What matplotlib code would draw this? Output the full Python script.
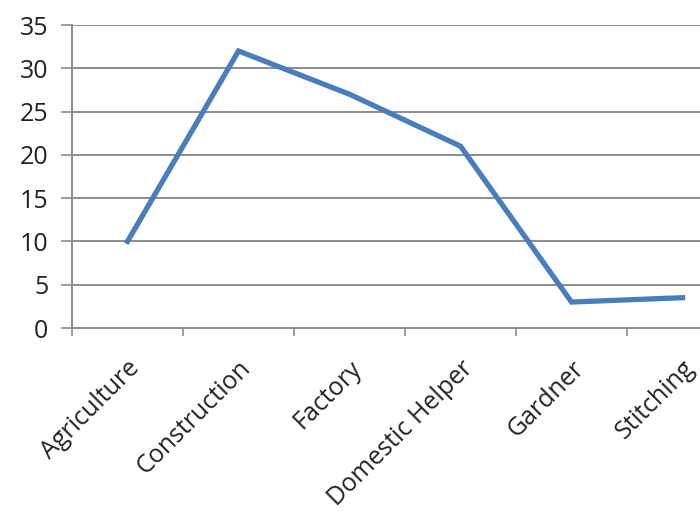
import matplotlib.pyplot as plt
import numpy as np

# occupation counts
categories = ['Agriculture', 'Construction', 'Factory', 'Domestic Helper', 'Gardner', 'Stitching']
values = [10, 32, 27, 21, 3, 3.5]

plt.rcParams['font.family'] = ['Open Sans', 'DejaVu Sans']

fig = plt.figure(figsize=(7, 5.11), dpi=100)
ax = fig.add_axes([72 / 700, 1 - 328 / 511, 666 / 700, (328 - 25) / 511])

x = np.arange(len(categories))
ax.plot(x, values, color='#4A7EBB', linewidth=3.8, solid_joinstyle='miter', zorder=3)

ax.set_ylim(0, 35)
ax.set_yticks(range(0, 36, 5))
ax.set_xlim(-0.5, len(categories) - 0.5)

# category labels at centres, tick marks on the boundaries
ax.set_xticks(x)
ax.set_xticklabels(categories, rotation=45, ha='right', rotation_mode='anchor', fontsize=18, color='#222222')
ax.set_xticks(np.arange(len(categories) + 1) - 0.5, minor=True)
ax.tick_params(axis='x', which='major', length=0, pad=20)
ax.tick_params(axis='x', which='minor', length=6, width=1.2, color='#8c8c8c')
ax.tick_params(axis='y', length=8, width=1.2, color='#8c8c8c', labelsize=18, labelcolor='#222222', pad=9)

ax.grid(axis='y', color='#8c8c8c', linewidth=1.4)
ax.set_axisbelow(True)

for side in ['top', 'right']:
    ax.spines[side].set_visible(False)
for side in ['left', 'bottom']:
    ax.spines[side].set_color('#8c8c8c')
    ax.spines[side].set_linewidth(1.4)

fig.savefig('out.png', dpi=100)
